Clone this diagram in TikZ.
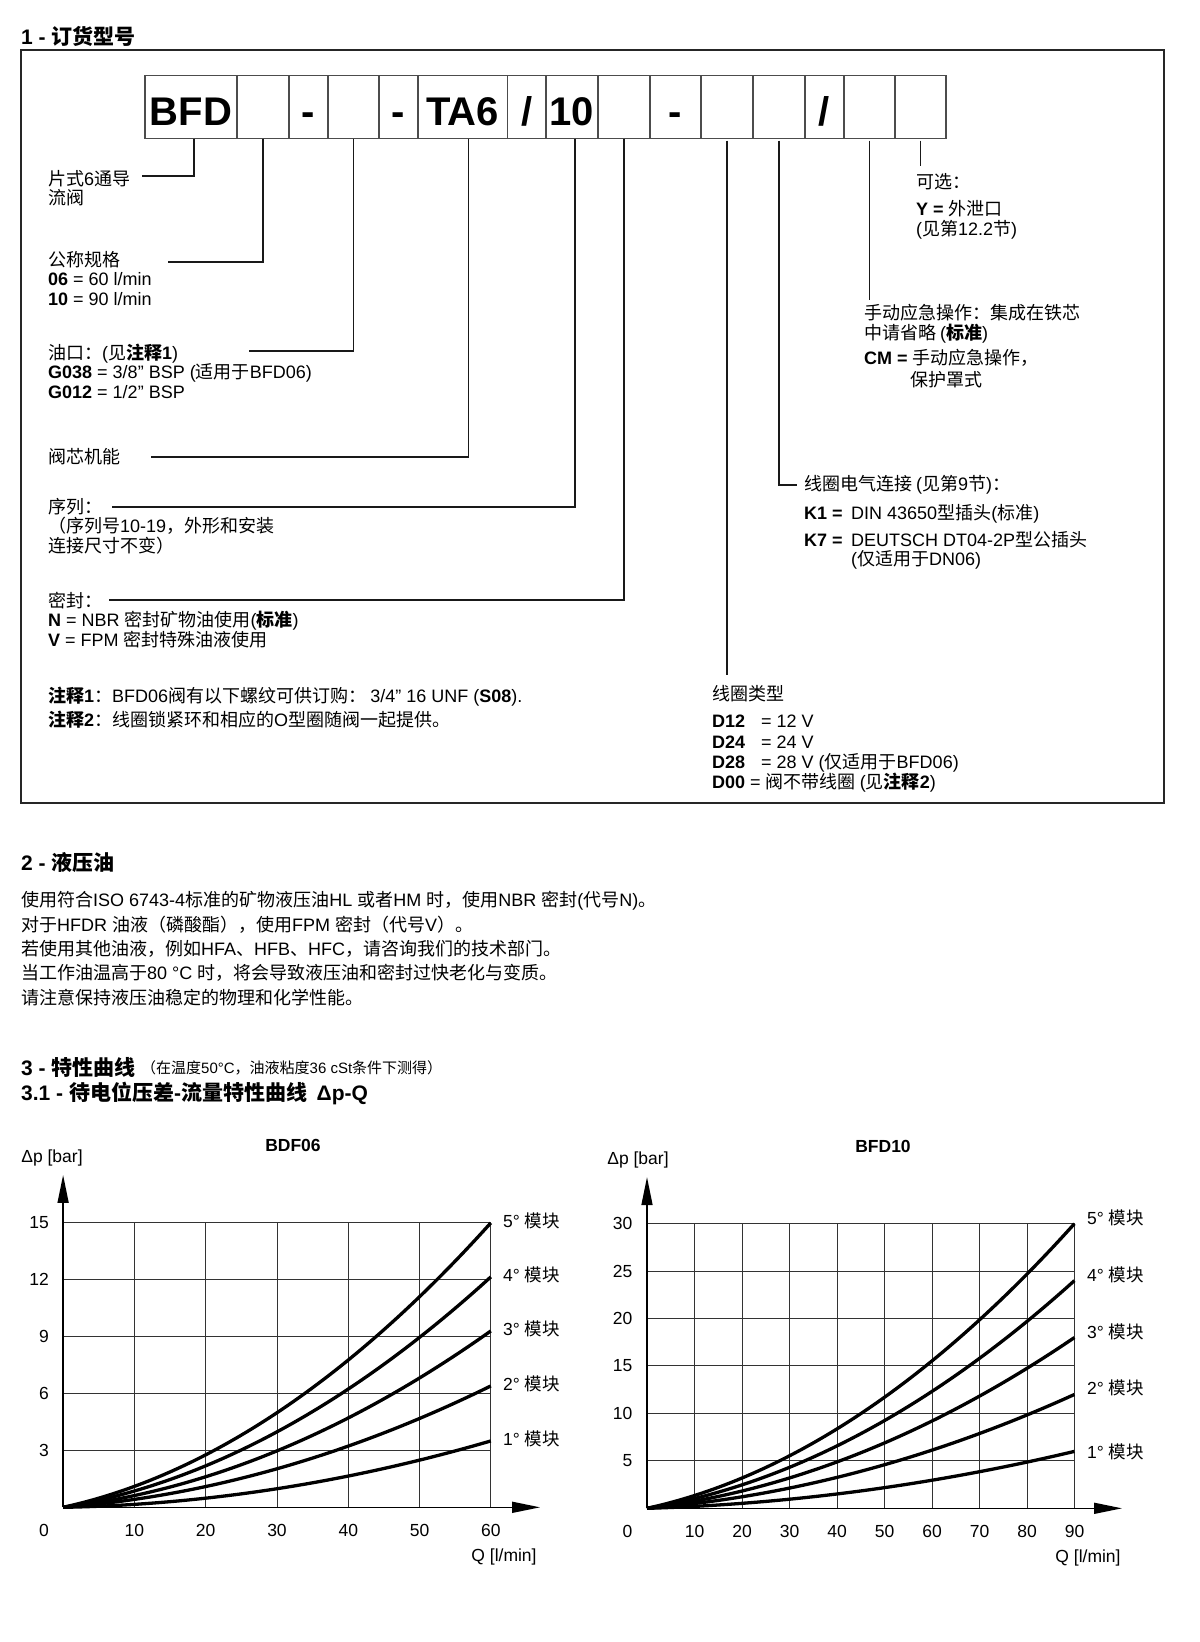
\documentclass[tikz,border=0pt]{standalone}
\usepackage{fontspec}
\setmainfont{Liberation Sans}
\newfontfamily\cjkfont{Noto Sans CJK SC}
\usetikzlibrary{arrows.meta, positioning}

% Chinese runs switch to the CJK font by themselves
\XeTeXinterchartokenstate=1
\newXeTeXintercharclass\cjkclass
\newcount\cjkcnt
\newcommand\cjkrange[2]{\cjkcnt=#1\relax
  \loop\XeTeXcharclass\cjkcnt=\cjkclass\advance\cjkcnt by 1
  \ifnum\cjkcnt<#2\repeat}
\cjkrange{"3000}{"3040}
\cjkrange{"4E00}{"A000}
\cjkrange{"FF00}{"FFF0}
\XeTeXinterchartoks 0 \cjkclass = {\cjkfont}
\XeTeXinterchartoks 4095 \cjkclass = {\cjkfont}
\XeTeXinterchartoks \cjkclass 0 = {\rmfamily}
\XeTeXinterchartoks 4095 0 = {\rmfamily}

\begin{document}
\begin{tikzpicture}[x=1pt, y=-1pt,
    outerframe/.style={draw=black!85, line width=1.4pt},
    codebox/.style={draw=black!70, line width=1.2pt, outer sep=0pt, inner sep=0pt,
                    minimum height=63pt, text height=37pt, text depth=0pt,
                    font=\fontsize{40}{40}\selectfont\bfseries},
    leader/.style={draw=black!90, line width=1.3pt},
    txt/.style={anchor=west, align=left, inner sep=0pt, font=\fontsize{18}{19.5}\selectfont},
    head/.style={anchor=west, inner sep=0pt, font=\fontsize{21}{24}\selectfont\bfseries},
    gridline/.style={draw=black!80, line width=1pt},
    axisline/.style={draw=black, line width=1.5pt, -{Triangle[length=28pt, width=11pt]}},
    dpcurve/.style={draw=black, line width=3.3pt, line join=round},
    ticklab/.style={inner sep=0pt, font=\fontsize{17.5}{20}\selectfont}]
\path[use as bounding box, fill=white] (0,0) rectangle (1200,1642);

% 1 - ordering code
\node[head] (h1) at (21,36) {1 - 订货型号};
\draw[outerframe] (21,50) rectangle (1164,803);

\node[codebox, minimum width=92pt, anchor=north west] (b1) at (145,75.5) {BFD};
\node[codebox, minimum width=52pt, right=0pt of b1] (b2) {};
\node[codebox, minimum width=39pt, right=0pt of b2] (b3) {-};
\node[codebox, minimum width=51pt, right=0pt of b3] (b4) {};
\node[codebox, minimum width=39pt, right=0pt of b4] (b5) {-};
\node[codebox, minimum width=89.5pt, right=0pt of b5] (b6) {TA6};
\node[codebox, minimum width=38.5pt, right=0pt of b6] (b7) {/};
\node[codebox, minimum width=52pt, right=0pt of b7] (b8) {10};
\node[codebox, minimum width=52pt, right=0pt of b8] (b9) {};
\node[codebox, minimum width=51pt, right=0pt of b9] (b10) {-};
\node[codebox, minimum width=52pt, right=0pt of b10] (b11) {};
\node[codebox, minimum width=52pt, right=0pt of b11] (b12) {};
\node[codebox, minimum width=39pt, right=0pt of b12] (b13) {/};
\node[codebox, minimum width=51pt, right=0pt of b13] (b14) {};
\node[codebox, minimum width=51pt, right=0pt of b14] (b15) {};

\node[txt] (type) at (48,188) {片式6通导\\流阀};
\node[txt] (size) at (48,278.5) {公称规格\\\textbf{06} = 60 l/min\\\textbf{10} = 90 l/min};
\node[txt] (port) at (48,371) {油口：(见\textbf{注释1})\\\textbf{G038} = 3/8” BSP (适用于BFD06)\\\textbf{G012} = 1/2” BSP};
\node[txt] (spool) at (48,457) {阀芯机能};
\node[txt] (series) at (48,526) {序列：\\（序列号10-19，外形和安装\\连接尺寸不变）};
\node[txt] (seal) at (48,620) {密封：\\\textbf{N} = NBR 密封矿物油使用(\textbf{标准})\\\textbf{V} = FPM 密封特殊油液使用};
\node[txt, font=\fontsize{18}{24}\selectfont] (notes) at (48,708) {\textbf{注释1}：BFD06阀有以下螺纹可供订购： 3/4” 16 UNF (\textbf{S08}).\\\textbf{注释2}：线圈锁紧环和相应的O型圈随阀一起提供。};
\node[txt, font=\fontsize{18}{20.3}\selectfont] (coil) at (712,739) {线圈类型\\[7pt]\makebox[49pt][l]{\textbf{D12}}= 12 V\\\makebox[49pt][l]{\textbf{D24}}= 24 V\\\makebox[49pt][l]{\textbf{D28}}= 28 V (仅适用于BFD06)\\\textbf{D00} = 阀不带线圈 (见\textbf{注释2})};
\node[txt, font=\fontsize{18}{19}\selectfont] (conn) at (804,522.5) {线圈电气连接 (见第9节)：\\[10pt]\makebox[47pt][l]{\textbf{K1 =}}DIN 43650型插头(标准)\\[8pt]\makebox[47pt][l]{\textbf{K7 =}}DEUTSCH DT04-2P型公插头\\\hspace*{47pt}(仅适用于DN06)};
\node[txt, font=\fontsize{18}{20}\selectfont] (manual) at (864,346.5) {手动应急操作：集成在铁芯\\中请省略 (\textbf{标准})\\[5pt]\textbf{CM =} 手动应急操作，\\[2pt]\hspace*{46pt}保护罩式};
\node[txt, font=\fontsize{18}{20}\selectfont] (option) at (916,206.5) {可选：\\[7pt]\textbf{Y =} 外泄口\\(见第12.2节)};

\coordinate (e1) at (141.6,176);
\coordinate (e2) at (167.6,262);
\coordinate (e3) at (249,351);
\coordinate (e4) at (151,457);
\coordinate (e5) at (112,507);
\coordinate (e6) at (109,600);
\coordinate (e7) at (727,675);
\coordinate (e8) at (797,485);
\coordinate (e9) at (869.5,300);
\coordinate (e10) at (920.5,166);
\draw[leader] ([xshift=3pt]b1.south) |- (e1);
\draw[leader] (b2.south) |- (e2);
\draw[leader] (b4.south) |- (e3);
\draw[leader] ([xshift=6pt]b6.south) |- (e4);
\draw[leader] ([xshift=3pt]b8.south) |- (e5);
\draw[leader] (b9.south) |- (e6);
\draw[leader, shorten <=2pt] (b11.south) -- (e7);
\draw[leader, shorten <=2pt] (b12.south) |- (e8);
\draw[leader, shorten <=2pt] (b14.south) -- (e9);
\draw[leader, shorten <=2pt] (b15.south) -- (e10);

% 2 - hydraulic fluid
\node[head] (h2) at (21,863) {2 - 液压油};
\node[txt, font=\fontsize{18}{24.3}\selectfont] (fluid) at (21,948.5) {使用符合ISO 6743-4标准的矿物液压油HL 或者HM 时，使用NBR 密封(代号N)。\\对于HFDR 油液（磷酸酯），使用FPM 密封（代号V）。\\若使用其他油液，例如HFA、HFB、HFC，请咨询我们的技术部门。\\当工作油温高于80 °C 时，将会导致液压油和密封过快老化与变质。\\请注意保持液压油稳定的物理和化学性能。};

% 3 - characteristic curves
\node[head] (h3) at (21,1067) {3 - 特性曲线};
\node[anchor=west, inner sep=0pt, font=\fontsize{15}{17}\selectfont] (cond) at (141,1068) {（在温度50°C，油液粘度36 cSt条件下测得）};
\node[head] (h31) at (21,1093) {3.1 - 待电位压差-流量特性曲线\ \ Δp-Q};

% BFD06 chart
\node[ticklab, font=\fontsize{17.5}{20}\selectfont\bfseries] (t1) at (293,1145) {BDF06};
\node[ticklab] (u1) at (52,1158) {Δp [bar]};
\node[ticklab] (q1) at (504,1557) {Q [l/min]};
\begin{scope}[shift={(63.1,1507.3)}, x=7.13pt, y=18.97pt]
  \foreach \q in {10,20,...,60} \draw[gridline] (\q,0) -- (\q,15);
  \foreach \p in {3,6,...,15} \draw[gridline] (0,\p) -- (60,\p);
  \coordinate (o1) at (0,0);
  \coordinate (ya1) at (0,17.52);
  \coordinate (xa1) at (66.9,0);
  \draw[axisline] (o1) -- (ya1);
  \draw[axisline] (o1) -- (xa1);
  \foreach \p in {3,6,...,15} \node[ticklab, anchor=east] (y1\p) at ([xshift=-14pt]0,\p) {\p};
  \foreach \q in {10,20,...,60} \node[ticklab] (x1\q) at ([yshift=-23.4pt]\q,0) {\q};
  \node[ticklab, anchor=east] (z1) at ([xshift=-14pt, yshift=-23.4pt]o1) {0};
  \foreach \k/\pe/\al in {5/15/0.33, 4/12.15/0.31, 3/9.3/0.28, 2/6.4/0.27, 1/3.5/0.12} {
    \draw[dpcurve] plot[domain=0:1, samples=40, smooth] ({60*\x}, {\pe*(\al*\x+(1-\al)*\x*\x)});
    \node[ticklab, anchor=west] (m1\k) at ([xshift=12pt, yshift=2pt]60,\pe) {\k°\ 模块};
  }
\end{scope}

% BFD10 chart
\node[ticklab, font=\fontsize{17.5}{20}\selectfont\bfseries] (t2) at (883,1146) {BFD10};
\node[ticklab] (u2) at (638,1160) {Δp [bar]};
\node[ticklab] (q2) at (1088,1558) {Q [l/min]};
\begin{scope}[shift={(647,1508.3)}, x=4.75pt, y=9.49pt]
  \foreach \q in {10,20,...,90} \draw[gridline] (\q,0) -- (\q,30);
  \foreach \p in {5,10,...,30} \draw[gridline] (0,\p) -- (90,\p);
  \coordinate (o2) at (0,0);
  \coordinate (ya2) at (0,34.9);
  \coordinate (xa2) at (100,0);
  \draw[axisline] (o2) -- (ya2);
  \draw[axisline] (o2) -- (xa2);
  \foreach \p in {5,10,...,30} \node[ticklab, anchor=east] (y2\p) at ([xshift=-14.5pt]0,\p) {\p};
  \foreach \q in {10,20,...,90} \node[ticklab] (x2\q) at ([yshift=-23.4pt]\q,0) {\q};
  \node[ticklab, anchor=east] (z2) at ([xshift=-14.5pt, yshift=-23.4pt]o2) {0};
  \foreach \k/\pe/\al/\dy in {5/30/0.33/6, 4/24/0.31/6, 3/18/0.3/6, 2/12/0.3/7, 1/6/0.22/0} {
    \draw[dpcurve] plot[domain=0:1, samples=40, smooth] ({90*\x}, {\pe*(\al*\x+(1-\al)*\x*\x)});
    \node[ticklab, anchor=west] (m2\k) at ([xshift=12.4pt, yshift=\dy pt]90,\pe) {\k°\ 模块};
  }
\end{scope}
\end{tikzpicture}
\end{document}
